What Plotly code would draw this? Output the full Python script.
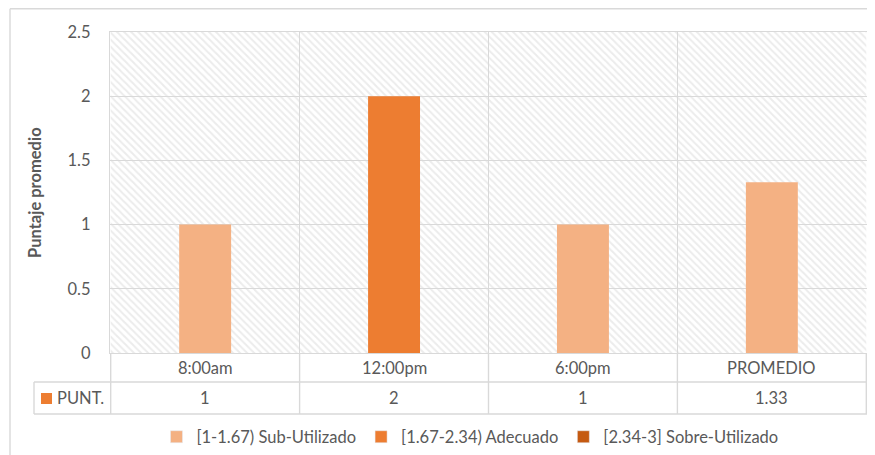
import plotly.graph_objects as go

# ---- data ----
categories = ["8:00am", "12:00pm", "6:00pm", "PROMEDIO"]
punt_values = [1, 2, 1, 1.33]
punt_labels = ["1", "2", "1", "1.33"]
series_name = "PUNT."
bar_colors = ["#F4B183", "#ED7D31", "#F4B183", "#F4B183"]
legend_labels = ["[1-1.67) Sub-Utilizado", "[1.67-2.34) Adecuado", "[2.34-3] Sobre-Utilizado"]
legend_colors = ["#F4B183", "#ED7D31", "#C55A11"]
y_max = 2.5
y_title = "Puntaje promedio"

# ---- geometry helpers (window pixels -> paper); page body has an 8px margin ----
OX, OY = 8, 8
W, H = 867, 447
def px(x):
    return (x - OX) / W
def py(y):
    return 1 - (y - OY) / H

PLOT_L, PLOT_R, PLOT_T, PLOT_B = 110, 867, 32, 353
ROW1_B, ROW2_B = 382, 414
TABLE_L = 34
GRID = "#D9D9D9"
TXT = "#595959"
FONT = "Lato"
LW = 1.4

fig = go.Figure()

# hatched plot-area background
fig.add_trace(go.Bar(
    x=categories, y=[y_max] * len(categories), width=1,
    marker=dict(color="rgba(255,255,255,0)", line=dict(width=0),
                pattern=dict(shape="\\", fgcolor="#D9D9D9", bgcolor="rgba(255,255,255,0)",
                             size=5, solidity=0.4)),
    showlegend=False, hoverinfo="skip",
))

# data bars
fig.add_trace(go.Bar(
    x=categories, y=punt_values, width=0.275, name=series_name,
    marker=dict(color=bar_colors, line=dict(width=0)),
    showlegend=False,
))

# legend-only entries
for lab, col in zip(legend_labels, legend_colors):
    fig.add_trace(go.Bar(x=[None], y=[None], name=lab, marker=dict(color=col)))

shapes = []
# vertical boundaries through the category & data rows
for b in [i - 0.5 for i in range(len(categories) + 1)]:
    shapes.append(dict(type="line", xref="x", yref="paper", x0=b, x1=b,
                       y0=py(PLOT_B), y1=py(ROW2_B), line=dict(color=GRID, width=LW)))
# table horizontal lines
for yy in [ROW1_B, ROW2_B]:
    shapes.append(dict(type="line", xref="paper", yref="paper", x0=px(TABLE_L), x1=px(PLOT_R),
                       y0=py(yy), y1=py(yy), line=dict(color=GRID, width=LW)))
shapes.append(dict(type="line", xref="paper", yref="paper", x0=px(TABLE_L), x1=px(TABLE_L),
                   y0=py(ROW1_B), y1=py(ROW2_B), line=dict(color=GRID, width=LW)))
# legend key in the data table
shapes.append(dict(type="rect", xref="paper", yref="paper", x0=px(41), x1=px(52),
                   y0=py(404), y1=py(393), fillcolor="#ED7D31", line=dict(width=0)))
# outer chart border
shapes.append(dict(type="line", xref="paper", yref="paper", x0=px(10), x1=px(10),
                   y0=py(8.7), y1=0, line=dict(color=GRID, width=LW)))
shapes.append(dict(type="line", xref="paper", yref="paper", x0=px(10), x1=1,
                   y0=py(8.7), y1=py(8.7), line=dict(color=GRID, width=LW)))

annotations = []
for c, lab in zip(categories, punt_labels):
    annotations.append(dict(x=c, xref="x", y=py(368), yref="paper", text=c, showarrow=False,
                            yanchor="middle", font=dict(family=FONT, size=16.5, color=TXT)))
    annotations.append(dict(x=c, xref="x", y=py(398), yref="paper", text=lab, showarrow=False,
                            yanchor="middle", font=dict(family=FONT, size=16.5, color=TXT)))
annotations.append(dict(x=px(55), xref="paper", y=py(398), yref="paper", text=series_name,
                        showarrow=False, xanchor="left", yanchor="middle",
                        font=dict(family=FONT, size=16.5, color=TXT)))
annotations.append(dict(x=px(35), xref="paper", y=py(193), yref="paper", text="<b>" + y_title + "</b>",
                        textangle=-90, showarrow=False, xanchor="center", yanchor="middle",
                        font=dict(family=FONT, size=16.5, color=TXT)))

fig.update_layout(
    width=W, height=H,
    margin=dict(l=0, r=0, t=0, b=0, pad=0, autoexpand=False),
    paper_bgcolor="white", plot_bgcolor="white",
    barmode="overlay",
    font=dict(family=FONT, size=16, color=TXT),
    xaxis=dict(domain=[px(PLOT_L), px(PLOT_R)], type="category", tickson="boundaries",
               showticklabels=False, showgrid=True, gridcolor=GRID, gridwidth=LW,
               showline=True, linecolor=GRID, linewidth=LW, mirror=True, ticks="",
               zeroline=False, fixedrange=True, automargin=False),
    yaxis=dict(domain=[py(PLOT_B), py(PLOT_T)], range=[0, y_max], dtick=0.5,
               showgrid=True, gridcolor=GRID, gridwidth=LW,
               showline=True, linecolor=GRID, linewidth=LW, mirror=True,
               ticks="outside", ticklen=15, tickcolor="rgba(0,0,0,0)",
               tickfont=dict(family=FONT, size=16.5, color=TXT), zeroline=False,
               fixedrange=True, automargin=False),
    legend=dict(orientation="h", x=px(470), xanchor="center", y=py(437), yanchor="middle",
                font=dict(family=FONT, size=16.5, color=TXT), bgcolor="rgba(0,0,0,0)",
                itemclick=False, itemdoubleclick=False),
    shapes=shapes,
    annotations=annotations,
    showlegend=True,
)

fig.write_html("out.html")
